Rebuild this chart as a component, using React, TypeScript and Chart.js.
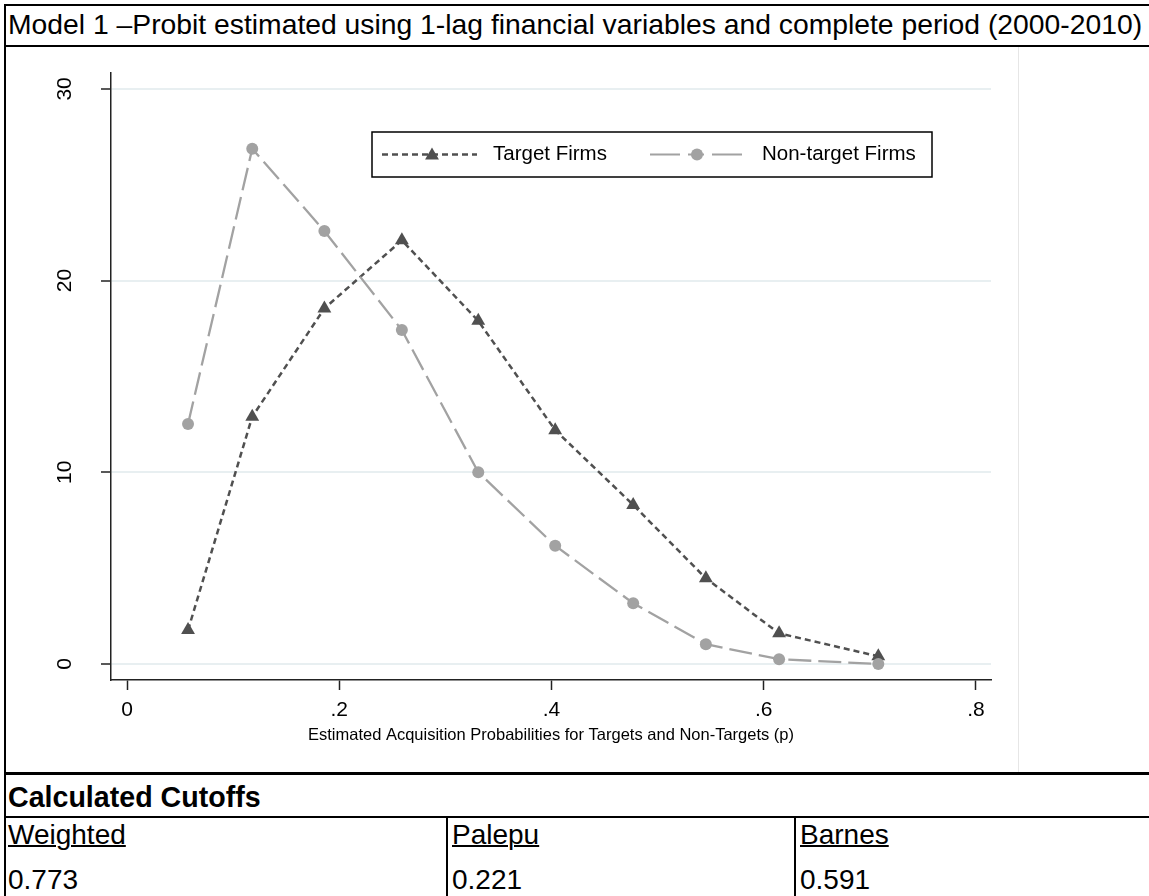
import React, { useEffect, useRef } from "react";
import { Chart, registerables } from "chart.js";

Chart.register(...registerables);

// ---- data ----
const probabilities = [0.0575, 0.118, 0.186, 0.259, 0.331, 0.4035, 0.477, 0.5455, 0.6145, 0.708];
const targetFirms = [1.77, 12.9, 18.55, 22.1, 17.9, 12.2, 8.3, 4.47, 1.6, 0.4];
const nonTargetFirms = [12.52, 26.88, 22.59, 17.42, 10.0, 6.17, 3.17, 1.03, 0.25, 0.0];
const xTicks = [0, 0.2, 0.4, 0.6, 0.8];
const xTickLabels = ["0", ".2", ".4", ".6", ".8"];
const yTicks = [0, 10, 20, 30];
const yTickLabels = ["0", "10", "20", "30"];
const seriesLabels = ["Target Firms", "Non-target Firms"];
const xAxisTitle = "Estimated Acquisition Probabilities for Targets and Non-Targets (p)";
const pageTitle = "Model 1 \u2013Probit estimated using 1-lag financial variables and complete period (2000-2010)";
const sectionTitle = "Calculated Cutoffs";
const cutoffNames = ["Weighted", "Palepu", "Barnes"];
const cutoffValues = ["0.773", "0.221", "0.591"];

const FONT = '"Liberation Sans", Arial, sans-serif';
const TARGET_COLOR = "#505050";
const NONTARGET_COLOR = "#a2a2a2";
const TARGET_DASH = [6, 4];
const NONTARGET_DASH = [23, 7];

function drawTriangle(ctx: CanvasRenderingContext2D, x: number, y: number, r: number) {
  ctx.beginPath();
  for (let k = 0; k < 3; k++) {
    const a = (k * 2 * Math.PI) / 3;
    const px = x + Math.sin(a) * r;
    const py = y - Math.cos(a) * r;
    if (k === 0) ctx.moveTo(px, py);
    else ctx.lineTo(px, py);
  }
  ctx.closePath();
  ctx.fill();
}

const overlayPlugin = {
  id: "overlay",
  afterDraw(chart: any) {
    const ctx: CanvasRenderingContext2D = chart.ctx;
    const xs = chart.scales.x;
    const ys = chart.scales.y;
    ctx.save();
    ctx.fillStyle = "#000";
    ctx.textAlign = "center";
    ctx.textBaseline = "middle";
    ctx.font = `21px ${FONT}`;
    xs.ticks.forEach((t: any, i: number) => {
      ctx.fillText(xTickLabels[i], xs.getPixelForValue(t.value), ys.bottom + 30);
    });
    ys.ticks.forEach((t: any, i: number) => {
      ctx.save();
      ctx.translate(xs.left - 46, ys.getPixelForValue(t.value));
      ctx.rotate(-Math.PI / 2);
      ctx.fillText(yTickLabels[i], 0, 0);
      ctx.restore();
    });
    ctx.font = `16.5px ${FONT}`;
    ctx.fillText(xAxisTitle, (xs.left + xs.right) / 2, ys.bottom + 55);

    // legend
    const bx = 365, by = 85, bw = 560, bh = 45;
    const cy = by + bh / 2;
    ctx.lineWidth = 1.5;
    ctx.strokeStyle = "#000";
    ctx.strokeRect(bx, by, bw, bh);

    ctx.lineWidth = 2.5;
    ctx.strokeStyle = TARGET_COLOR;
    ctx.setLineDash(TARGET_DASH);
    ctx.beginPath();
    ctx.moveTo(bx + 10, cy);
    ctx.lineTo(bx + 105, cy);
    ctx.stroke();
    ctx.setLineDash([]);
    ctx.fillStyle = TARGET_COLOR;
    drawTriangle(ctx, bx + 60, cy + 1, 8);

    ctx.lineWidth = 2.2;
    ctx.strokeStyle = NONTARGET_COLOR;
    ctx.setLineDash([30, 8, 16, 8]);
    ctx.beginPath();
    ctx.moveTo(bx + 278, cy);
    ctx.lineTo(bx + 375, cy);
    ctx.stroke();
    ctx.setLineDash([]);
    ctx.fillStyle = NONTARGET_COLOR;
    ctx.beginPath();
    ctx.arc(bx + 325, cy, 6, 0, Math.PI * 2);
    ctx.fill();

    ctx.fillStyle = "#000";
    ctx.textAlign = "left";
    ctx.font = `20.5px ${FONT}`;
    ctx.fillText(seriesLabels[0], bx + 121, cy);
    ctx.fillText(seriesLabels[1], bx + 390, cy);
    ctx.restore();
  },
};

function ChartCanvas() {
  const ref = useRef<HTMLCanvasElement | null>(null);
  useEffect(() => {
    if (!ref.current) return;
    const chart = new Chart(ref.current, {
      type: "line",
      data: {
        datasets: [
          {
            label: seriesLabels[0],
            data: probabilities.map((p, i) => ({ x: p, y: targetFirms[i] })),
            borderColor: TARGET_COLOR,
            backgroundColor: TARGET_COLOR,
            borderWidth: 2.5,
            borderDash: TARGET_DASH,
            pointStyle: "triangle",
            pointRadius: 8,
            pointBorderWidth: 0,
            pointBackgroundColor: TARGET_COLOR,
            tension: 0,
            order: 2,
          },
          {
            label: seriesLabels[1],
            data: probabilities.map((p, i) => ({ x: p, y: nonTargetFirms[i] })),
            borderColor: NONTARGET_COLOR,
            backgroundColor: NONTARGET_COLOR,
            borderWidth: 2.3,
            borderDash: NONTARGET_DASH,
            pointStyle: "circle",
            pointRadius: 6,
            pointBorderWidth: 0,
            pointBackgroundColor: NONTARGET_COLOR,
            tension: 0,
            order: 1,
          },
        ],
      },
      options: {
        responsive: false,
        animation: false,
        events: [],
        layout: { padding: { top: 26, right: 27, left: 0, bottom: 0 } },
        plugins: { legend: { display: false }, tooltip: { enabled: false } },
        scales: {
          x: {
            type: "linear",
            min: -0.0151,
            max: 0.8142,
            afterBuildTicks: (s: any) => {
              s.ticks = xTicks.map((v) => ({ value: v }));
            },
            afterFit: (s: any) => {
              s.height = 93;
            },
            ticks: { display: false },
            grid: {
              drawOnChartArea: false,
              drawTicks: true,
              tickLength: 10,
              tickColor: "#222",
              tickWidth: 1.5,
            },
            border: { display: true, color: "#222", width: 1.5 },
          },
          y: {
            type: "linear",
            min: -0.835,
            max: 30.83,
            afterBuildTicks: (s: any) => {
              s.ticks = yTicks.map((v) => ({ value: v }));
            },
            afterFit: (s: any) => {
              s.width = 104;
            },
            ticks: { display: false },
            grid: {
              drawOnChartArea: true,
              color: "#e8eff1",
              lineWidth: 2,
              drawTicks: true,
              tickLength: 10,
              tickColor: "#222",
              tickWidth: 1.5,
            },
            border: { display: true, color: "#222", width: 1.5 },
          },
        },
      },
      plugins: [overlayPlugin],
    } as any);
    return () => chart.destroy();
  }, []);
  return (
    <canvas
      ref={ref}
      width={1011}
      height={726}
      style={{ position: "absolute", left: 7, top: 47, width: 1011, height: 726 }}
    />
  );
}

const abs = (s: React.CSSProperties): React.CSSProperties => ({ position: "absolute", ...s });

export default function App() {
  const textBase: React.CSSProperties = {
    fontFamily: FONT,
    fontSize: 28,
    lineHeight: "32px",
    whiteSpace: "nowrap",
    color: "#000",
  };
  const colLeft = [8, 452, 800];
  return (
    <div style={abs({ left: 0, top: 0, width: 1149, height: 896, overflow: "hidden", background: "#fff" })}>
      <div style={abs({ left: 4, top: 4, width: 1145, height: 2, background: "#000" })} />
      <div style={abs({ left: 4, top: 4, width: 2, height: 892, background: "#000" })} />
      <div style={abs({ ...textBase, fontSize: 28.3, left: 8, top: 8 })}>{pageTitle}</div>
      <div style={abs({ left: 4, top: 45, width: 1145, height: 2, background: "#000" })} />
      <ChartCanvas />
      <div style={abs({ left: 1018, top: 47, width: 1, height: 726, background: "#e6e6e6" })} />
      <div style={abs({ left: 4, top: 772, width: 1145, height: 3, background: "#000" })} />
      <div style={abs({ ...textBase, fontSize: 28.6, left: 8, top: 781, fontWeight: "bold" })}>{sectionTitle}</div>
      <div style={abs({ left: 4, top: 816, width: 1145, height: 2, background: "#000" })} />
      <div style={abs({ left: 446, top: 816, width: 2, height: 80, background: "#000" })} />
      <div style={abs({ left: 794, top: 816, width: 2, height: 80, background: "#000" })} />
      {cutoffNames.map((n, i) => (
        <div
          key={n}
          style={abs({
            ...textBase,
            left: colLeft[i],
            top: 819,
            textDecoration: "underline",
            textDecorationThickness: "2px",
          })}
        >
          {n}
        </div>
      ))}
      {cutoffValues.map((v, i) => (
        <div key={v} style={abs({ ...textBase, left: colLeft[i], top: 864 })}>
          {v}
        </div>
      ))}
    </div>
  );
}
